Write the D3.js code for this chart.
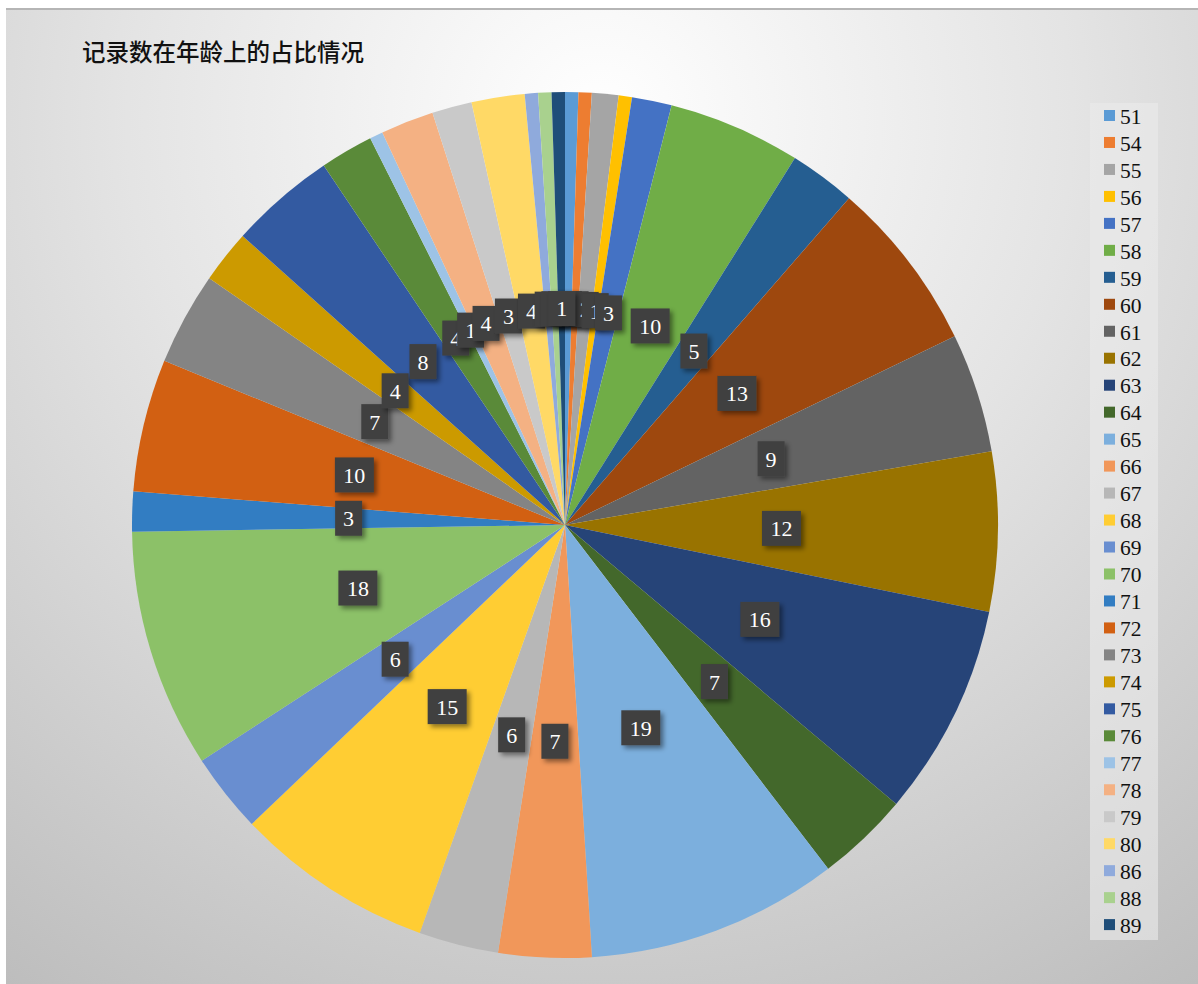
<!DOCTYPE html>
<html><head><meta charset="utf-8">
<script src="https://cdn.jsdelivr.net/npm/d3@7/dist/d3.min.js"></script>
<style>html,body{margin:0;padding:0;background:#fff;}svg{display:block;}</style>
</head><body><svg id="c" width="1198" height="984"></svg>
<script>
const title = "记录数在年龄上的占比情况";
const ages = ["51","54","55","56","57","58","59","60","61","62","63","64","65","66","67","68","69","70","71","72","73","74","75","76","77","78","79","80","86","88","89"];
const counts = [1,1,2,1,3,10,5,13,9,12,16,7,19,7,6,15,6,18,3,10,7,4,8,4,1,4,3,4,1,1,1];
const colors = ["#5B9BD5","#ED7D31","#A5A5A5","#FFC000","#4472C4","#70AD47","#255E91","#9E480E","#636363","#997300","#264478","#43682B","#7CAFDD","#F1975A","#B7B7B7","#FFCD33","#698ED0","#8CC168","#327DC2","#D26012","#848484","#CC9A00","#335AA1","#5A8A39","#9DC3E6","#F4B183","#C9C9C9","#FFD966","#8FAADC","#A9D18E","#1F4E79"];

const svg = d3.select("#c");
const defs = svg.append("defs");
const g1 = defs.append("radialGradient").attr("id","bg").attr("gradientUnits","userSpaceOnUse")
  .attr("cx",600).attr("cy",120).attr("r",1050);
g1.append("stop").attr("offset","0").attr("stop-color","#ffffff");
g1.append("stop").attr("offset","0.45").attr("stop-color","#e4e4e4");
g1.append("stop").attr("offset","1").attr("stop-color","#bdbdbd");
const f = defs.append("filter").attr("id","sh").attr("x","-50%").attr("y","-50%").attr("width","200%").attr("height","200%");
f.append("feDropShadow").attr("dx",3).attr("dy",3).attr("stdDeviation",2.5).attr("flood-color","#000").attr("flood-opacity",0.45);

svg.append("rect").attr("x",6).attr("y",8).attr("width",1192).attr("height",976).attr("fill","url(#bg)");
svg.append("line").attr("x1",6).attr("x2",1198).attr("y1",9).attr("y2",9).attr("stroke","#b5b5b5").attr("stroke-width",2);

svg.append("text").attr("x",82).attr("y",61).text(title)
  .attr("font-family","Noto Sans CJK SC").attr("font-size",23.5).attr("font-weight",500).attr("fill","#111");

const cx = 565, cy = 525, R = 433;
const data = ages.map((a,i)=>({age:a,value:counts[i],color:colors[i]}));
const pie = d3.pie().sort(null).value(d=>d.value);
const arcs = pie(data);
const arc = d3.arc().innerRadius(0).outerRadius(R);
const pg = svg.append("g").attr("transform",`translate(${cx},${cy})`);
pg.selectAll("path").data(arcs).join("path").attr("d",arc).attr("fill",d=>d.data.color);

const lg = pg.append("g");
arcs.forEach(d=>{
  const [x,y] = arc.centroid(d);
  const t = String(d.data.value);
  const w = t.length>1 ? 39 : 27, h = 35;
  const gg = lg.append("g").attr("transform",`translate(${x},${y})`);
  gg.append("rect").attr("x",-w/2).attr("y",-h/2).attr("width",w).attr("height",h).attr("fill","#404040").attr("filter","url(#sh)");
  gg.append("text").attr("text-anchor","middle").attr("dy","0.36em").text(t)
    .attr("font-family","Liberation Serif").attr("font-size",22).attr("fill","#fff");
});

// legend
const lx = 1090, ly = 103;
svg.append("rect").attr("x",lx).attr("y",ly).attr("width",68).attr("height",837).attr("fill","#ebebeb").attr("opacity",0.6);
const step = 26.97;
const li = svg.append("g").selectAll("g").data(data).join("g")
  .attr("transform",(d,i)=>`translate(${lx},${116+i*step})`);
li.append("rect").attr("x",14).attr("y",-6).attr("width",11).attr("height",11).attr("fill",d=>d.color);
li.append("text").attr("x",30).attr("dy","0.36em").text(d=>d.age)
  .attr("font-family","Liberation Serif").attr("font-size",21.5).attr("fill","#111");
</script></body></html>
